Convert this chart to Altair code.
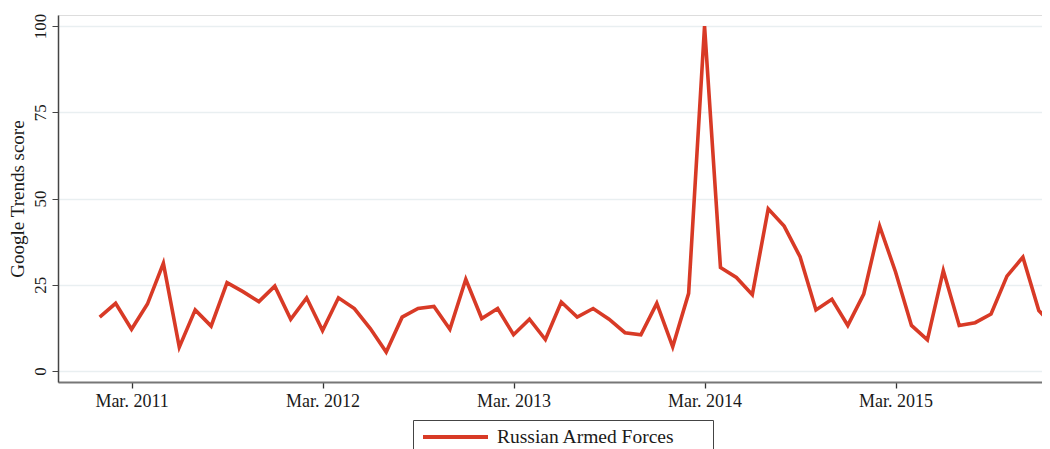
import altair as alt
import pandas as pd

months = [
    "2011-01", "2011-02", "2011-03", "2011-04", "2011-05", "2011-06",
    "2011-07", "2011-08", "2011-09", "2011-10", "2011-11", "2011-12",
    "2012-01", "2012-02", "2012-03", "2012-04", "2012-05", "2012-06",
    "2012-07", "2012-08", "2012-09", "2012-10", "2012-11", "2012-12",
    "2013-01", "2013-02", "2013-03", "2013-04", "2013-05", "2013-06",
    "2013-07", "2013-08", "2013-09", "2013-10", "2013-11", "2013-12",
    "2014-01", "2014-02", "2014-03", "2014-04", "2014-05", "2014-06",
    "2014-07", "2014-08", "2014-09", "2014-10", "2014-11", "2014-12",
    "2015-01", "2015-02", "2015-03", "2015-04", "2015-05", "2015-06",
    "2015-07", "2015-08", "2015-09", "2015-10", "2015-11", "2015-12",
    "2016-01",
]
scores = [
    15.6, 19.6, 12.1, 19.4, 31.2, 6.9, 17.7, 13.0, 25.6, 23.0, 20.1, 24.6,
    15.0, 21.2, 11.7, 21.2, 18.1, 12.3, 5.5, 15.6, 18.1, 18.7, 12.1, 26.6,
    15.2, 18.1, 10.5, 15.0, 9.1, 20.0, 15.6, 18.1, 15.0, 11.1, 10.5, 19.6,
    7.0, 22.5, 100.0, 30.0, 27.1, 22.1, 47.0, 42.0, 33.1, 17.7, 20.8, 13.2,
    22.3, 42.0, 28.7, 13.2, 9.0, 29.1, 13.2, 14.0, 16.5, 27.5, 33.0, 17.5,
    12.8,
]
series_name = "Russian Armed Forces"
tick_months = [2, 14, 26, 38, 50]
tick_labels = ["Mar. 2011", "Mar. 2012", "Mar. 2013", "Mar. 2014", "Mar. 2015"]
y_ticks = [0, 25, 50, 75, 100]

t = [(int(m[:4]) - 2011) * 12 + int(m[5:]) - 1 for m in months]
df = pd.DataFrame({"t": t, "score": scores, "series": series_name})

label_map = "{" + ",".join(f"'{v}':'{l}'" for v, l in zip(tick_months, tick_labels)) + "}"

FONT = "Liberation Serif"
W, H = 984, 367
PX_PER_MONTH = 15.917
x0 = -2.62
x1 = x0 + W / PX_PER_MONTH

# blank glyphs that widen the legend box to the original's width
blank_pad = "\u2800" * 2

chart = alt.Chart(df).mark_line(strokeWidth=3.6, clip=True, strokeJoin="miter").encode(
    x=alt.X(
        "t:Q",
        scale=alt.Scale(domain=[x0, x1], nice=False, zero=False),
        axis=alt.Axis(
            values=tick_months,
            labelExpr=f"{label_map}[datum.value]",
            title=None,
            grid=False,
            domainColor="#777777",
            domainWidth=2,
            tickColor="#333333",
            tickWidth=1.3,
            tickSize=6,
            labelFont=FONT,
            labelFontSize=18,
            labelColor="#1a1a1a",
            labelPadding=4,
        ),
    ),
    y=alt.Y(
        "score:Q",
        scale=alt.Scale(domain=[-3.2, 103.2], nice=False, zero=False),
        axis=alt.Axis(
            values=y_ticks,
            title="Google Trends score",
            titleFont=FONT,
            titleFontSize=19,
            titleFontWeight="normal",
            titleColor="#1a1a1a",
            titleX=-35,
            titleY=H / 2,
            titleAlign="center",
            titleBaseline="alphabetic",
            titleAngle=270,
            grid=True,
            gridColor="#e9eff1",
            gridWidth=1.5,
            domainColor="#444444",
            domainWidth=1.5,
            tickColor="#444444",
            tickSize=6,
            labelAngle=270,
            labelAlign="center",
            labelBaseline="alphabetic",
            labelFont=FONT,
            labelFontSize=17,
            labelColor="#1a1a1a",
            labelPadding=7,
        ),
    ),
    color=alt.Color(
        "series:N",
        scale=alt.Scale(domain=[series_name], range=["#d83a26"]),
        legend=alt.Legend(
            title=None,
            orient="none",
            legendX=355,
            legendY=405,
            symbolType="stroke",
            symbolSize=4225,
            symbolStrokeWidth=4,
            clipHeight=18,
            labelFont=FONT,
            labelFontSize=19.5,
            labelColor="#1a1a1a",
            labelOffset=7,
            labelExpr=f"datum.label + '{blank_pad}'",
            labelLimit=400,
            strokeColor="#444444",
            fillColor="white",
            padding=8,
        ),
    ),
).properties(
    width=W,
    height=H,
    autosize=alt.AutoSizeParams(type="none"),
    padding={"left": 50, "top": 7, "right": 0, "bottom": 70},
).configure_view(stroke=None).configure(background="white")

chart.save("out.html", embed_options={"renderer": "svg", "actions": False})
